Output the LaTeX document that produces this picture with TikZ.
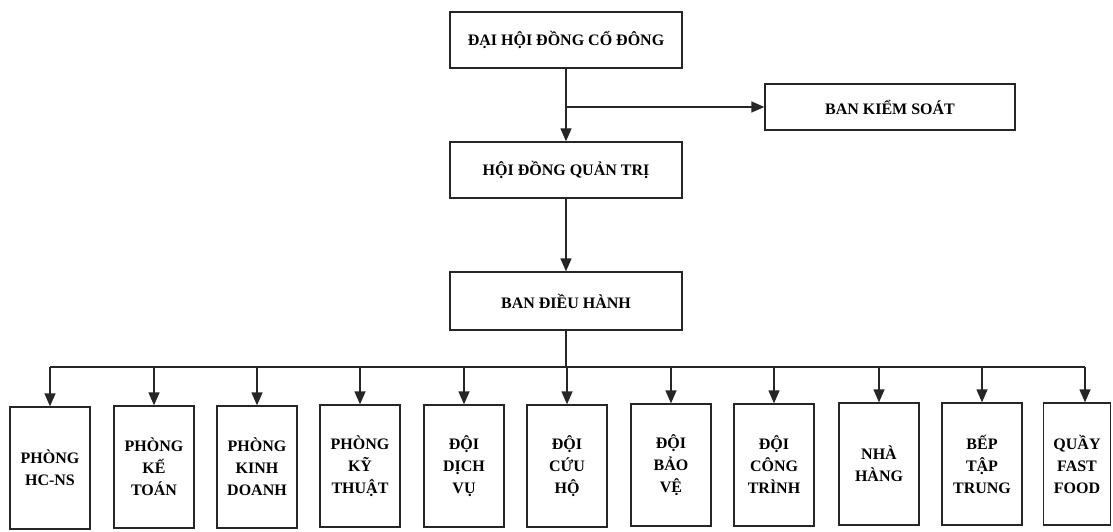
\documentclass[tikz,border=0pt]{standalone}
\usepackage{fontspec}
\setmainfont{Liberation Serif}
\usetikzlibrary{arrows.meta}
\begin{document}
\begin{tikzpicture}[x=1pt,y=-1pt,
  box/.style={draw=black!85, line width=1.3pt, rectangle, inner sep=2pt, align=center,
    font=\fontsize{16}{22}\selectfont\bfseries},
  topbox/.style={box, minimum width=232pt, minimum height=56pt},
  unitbox/.style={box, minimum width=80pt, minimum height=122pt},
  link/.style={draw=black!85, line width=1.3pt},
  arrow/.style={link, -{Triangle[width=11pt,length=13pt]}}]
\useasboundingbox (0,0) rectangle (1113,532);
\node[topbox] (dh) at (566,40) {ĐẠI HỘI ĐỒNG CỔ ĐÔNG};
\node[box, minimum width=250pt, minimum height=46pt] (bks) at (890,107) {BAN KIỂM SOÁT};
\node[topbox] (hd) at (566,170) {HỘI ĐỒNG QUẢN TRỊ};
\node[topbox, minimum height=58pt] (bdh) at (566,301) {BAN ĐIỀU HÀNH};
\node[unitbox] (u1) at (50,468) {PHÒNG\\HC-NS};
\node[unitbox] (u2) at (154,467) {PHÒNG\\KẾ\\TOÁN};
\node[unitbox] (u3) at (257,467) {PHÒNG\\KINH\\DOANH};
\node[unitbox] (u4) at (360,466) {PHÒNG\\KỸ\\THUẬT};
\node[unitbox] (u5) at (464,466) {ĐỘI\\DỊCH\\VỤ};
\node[unitbox] (u6) at (567,466) {ĐỘI\\CỨU\\HỘ};
\node[unitbox] (u7) at (671,465) {ĐỘI\\BẢO\\VỆ};
\node[unitbox] (u8) at (774,465) {ĐỘI\\CÔNG\\TRÌNH};
\node[unitbox] (u9) at (879,464) {NHÀ\\HÀNG};
\node[unitbox] (u10) at (982,464) {BẾP\\TẬP\\TRUNG};
\node[unitbox, minimum width=67pt] (u11) at (1077,464) {QUẦY\\FAST\\FOOD};
\coordinate (j1) at (566,107);
\coordinate (bus) at (566,367);
\draw[arrow] (dh.south) -- (hd.north);
\draw[arrow] (j1) -- (bks.west);
\draw[arrow] (hd.south) -- (bdh.north);
\draw[link] (bdh.south) -- (bus);
\draw[link] (u1.north |- bus) -- ([xshift=8pt]u11.north |- bus);
\foreach \u in {u1,u2,u3,u4,u5,u6,u7,u8,u9,u10}
  \draw[arrow] (\u.north |- bus) -- (\u.north);
\draw[arrow] ([xshift=8pt]u11.north |- bus) -- ([xshift=8pt]u11.north);
\end{tikzpicture}
\end{document}
